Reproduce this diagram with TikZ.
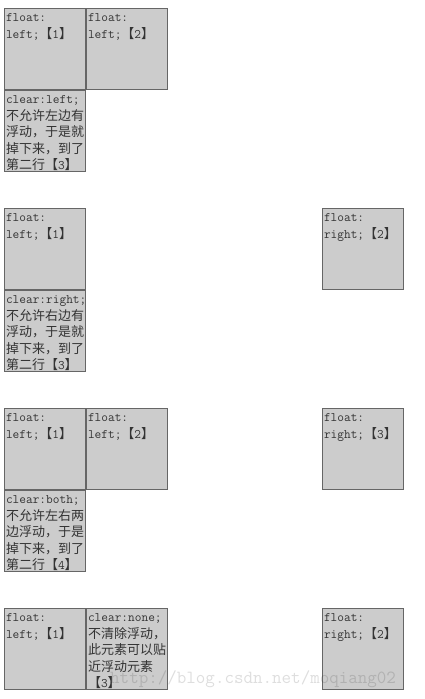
\documentclass[tikz,border=0pt]{standalone}
\usepackage{fontspec}
\newfontfamily\cjk{Noto Sans CJK SC}
\definecolor{boxfill}{HTML}{CCCCCC}
\definecolor{boxline}{HTML}{666666}
\definecolor{txt}{HTML}{333333}
\newcommand\zh[1]{{\cjk #1}}
\newcommand\bx[1]{\parbox[t][78pt][t]{78pt}{\raggedright\fontsize{13}{16.5}\selectfont\ttfamily\strut #1}}
\newcommand\lb{\zh{【}}
\newcommand\rb{\zh{】}}
\tikzset{
  cssbox/.style={draw=boxline, fill=boxfill, line width=1pt, inner sep=1.5pt, outer sep=0pt, anchor=north west, text=txt},
  wmark/.style={anchor=base west, inner sep=0pt, text=black, text opacity=0.13, font=\fontsize{18.5}{20}\selectfont\ttfamily}
}
\begin{document}
\begin{tikzpicture}[x=1pt,y=-1pt]
\useasboundingbox (0,0) rectangle (425,699);
% section 1
\node[cssbox] (a1) at (4.5,8.5) {\bx{float:\\left;\lb 1\rb}};
\node[cssbox] (b1) at (86.5,8.5) {\bx{float:\\left;\lb 2\rb}};
\node[cssbox] (c1) at (4.5,90.5) {\bx{clear:left;\\\zh{不允许左边有}\\\zh{浮动，于是就}\\\zh{掉下来，到了}\\\zh{第二行}\lb 3\rb}};
% section 2
\node[cssbox] (a2) at (4.5,208.5) {\bx{float:\\left;\lb 1\rb}};
\node[cssbox] (r2) at (322.5,208.5) {\bx{float:\\right;\lb 2\rb}};
\node[cssbox] (c2) at (4.5,290.5) {\bx{clear:right;\\\zh{不允许右边有}\\\zh{浮动，于是就}\\\zh{掉下来，到了}\\\zh{第二行}\lb 3\rb}};
% section 3
\node[cssbox] (a3) at (4.5,408.5) {\bx{float:\\left;\lb 1\rb}};
\node[cssbox] (b3) at (86.5,408.5) {\bx{float:\\left;\lb 2\rb}};
\node[cssbox] (r3) at (322.5,408.5) {\bx{float:\\right;\lb 3\rb}};
\node[cssbox] (c3) at (4.5,490.5) {\bx{clear:both;\\\zh{不允许左右两}\\\zh{边浮动，于是}\\\zh{掉下来，到了}\\\zh{第二行}\lb 4\rb}};
% section 4
\node[cssbox] (a4) at (4.5,608.5) {\bx{float:\\left;\lb 1\rb}};
\node[cssbox] (b4) at (86.5,608.5) {\bx{clear:none;\\\zh{不清除浮动，}\\\zh{此元素可以贴}\\\zh{近浮动元素}\\\lb 3\rb}};
\node[cssbox] (r4) at (322.5,608.5) {\bx{float:\\right;\lb 2\rb}};
% watermark
\node[wmark] (wm) at (110,683) {http://blog.csdn.net/moqiang02};
\end{tikzpicture}
\end{document}
